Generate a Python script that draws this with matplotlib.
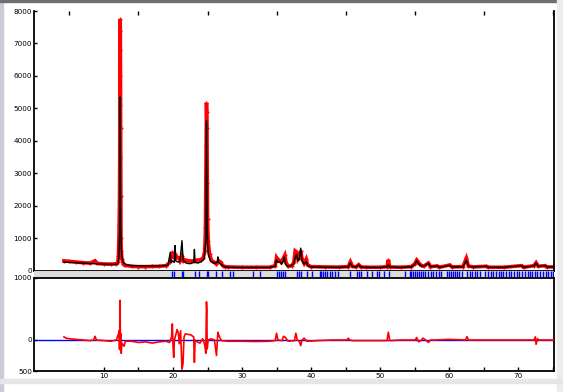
import matplotlib
matplotlib.use("Agg")
import matplotlib.pyplot as plt
from matplotlib.patches import Rectangle

# ---------------- data ----------------
calc_x = [4.2, 6, 8, 10, 11.5, 12.0, 12.15, 12.25, 12.28, 12.32, 12.35, 12.38, 12.42, 12.5, 12.6, 12.8,
          13.2, 14, 16, 18, 19.3, 19.6, 19.7, 19.9, 20.2, 20.3, 20.4, 20.7, 21.0, 21.3, 21.45, 21.6,
          22, 22.5, 23.0, 23.1, 23.2, 23.6, 24.0, 24.5, 24.75, 24.85, 24.95, 25.1, 25.4, 26.0, 26.4,
          26.5, 26.6, 27, 27.5, 28, 30, 32, 34, 34.8, 35.0, 35.2, 35.5, 35.7, 36.0, 36.1, 36.3, 36.6,
          37, 37.5, 37.7, 37.9, 38.1, 38.3, 38.5, 38.7, 39.0, 39.3, 39.5, 40, 42, 44, 45.4, 45.7, 46.0,
          46.5, 46.9, 47.2, 48, 50, 51.0, 51.2, 51.4, 53, 54.5, 55.0, 55.3, 55.6, 55.9, 56.3, 57.0,
          57.3, 58.3, 58.6, 60.1, 60.4, 62.0, 62.5, 62.8, 63.5, 65.4, 65.7, 68, 70.5, 70.8, 72.3,
          72.6, 72.9, 73.9, 74.2, 75.4]
calc_y = [260, 240, 215, 195, 185, 200, 400, 1000, 2000, 4000, 5350, 3500, 1500, 700, 400, 250,
          180, 150, 140, 140, 160, 560, 250, 300, 250, 770, 300, 260, 280, 920, 350, 280,
          220, 210, 250, 650, 250, 230, 260, 350, 900, 4620, 1200, 500, 300, 220, 250,
          420, 250, 180, 110, 100, 95, 95, 95, 130, 330, 250, 280, 200, 300, 420, 200, 130,
          140, 200, 400, 500, 300, 350, 690, 300, 200, 270, 150, 110, 100, 100, 110, 230, 120,
          110, 170, 110, 100, 95, 110, 180, 110, 100, 110, 180, 300, 200, 150, 130, 220,
          120, 140, 100, 160, 110, 110, 310, 130, 110, 130, 100, 100, 150, 100, 140,
          230, 130, 150, 110, 110]

obs_x = [4.2, 5, 6, 7, 8, 8.7, 9.0, 10, 11, 11.8, 12.0, 12.1, 12.2, 12.25, 12.28, 12.3, 12.32, 12.35,
         12.37, 12.39, 12.41, 12.43, 12.46, 12.5, 12.6, 12.8, 13.0, 14, 15, 16, 17, 18, 19, 19.5,
         19.7, 19.9, 20.1, 20.3, 20.5, 20.8, 21.0, 21.3, 21.5, 21.8, 22.2, 22.6, 23.1, 23.5, 24.0,
         24.4, 24.6, 24.7, 24.75, 24.8, 24.85, 24.88, 24.92, 24.96, 25.0, 25.1, 25.3, 25.6, 26.0,
         26.3, 26.6, 26.9, 27.2, 27.6, 28, 30, 32, 34, 34.8, 35.0, 35.2, 35.5, 35.7, 36.0, 36.2,
         36.4, 36.7, 37.2, 37.5, 37.7, 37.9, 38.1, 38.3, 38.5, 38.7, 39.0, 39.3, 39.5, 40, 42, 44,
         45.4, 45.7, 46.0, 46.5, 46.9, 47.2, 48, 50, 51.0, 51.2, 51.4, 53, 54.5, 55.0, 55.3, 55.6,
         55.9, 56.3, 57.0, 57.3, 58.3, 58.6, 60.1, 60.4, 62.0, 62.5, 62.8, 63.5, 65.4, 65.7, 68,
         70.5, 70.8, 72.3, 72.6, 72.9, 73.9, 74.2, 75.4]
obs_y = [300, 280, 260, 240, 230, 300, 220, 200, 195, 210, 260, 450, 1400, 2300, 3500, 5100, 6800, 7750,
         7380, 6000, 4400, 2300, 1000, 600, 350, 200, 160, 130, 120, 120, 125, 130, 150, 250,
         450, 570, 380, 500, 420, 400, 300, 450, 300, 320, 300, 290, 300, 320, 330,
         400, 600, 1300, 2400, 3850, 5170, 4900, 4400, 2700, 1600, 900, 500, 300, 250,
         200, 300, 250, 150, 120, 110, 100, 100, 100, 150, 400, 330, 300, 250, 380, 470,
         220, 130, 150, 250, 600, 560, 350, 420, 600, 350, 220, 350, 170, 120, 110, 105,
         120, 270, 130, 110, 180, 110, 100, 100, 120, 330, 110, 100, 120, 200, 320, 230,
         160, 130, 230, 120, 140, 100, 170, 110, 120, 380, 140, 110, 130, 100, 100,
         150, 100, 150, 240, 130, 150, 110, 110]

diff_x = [4.2, 4.5, 5, 6, 7, 8, 8.5, 8.7, 8.9, 10, 11, 11.8, 12.1, 12.2, 12.25, 12.3, 12.33, 12.36,
          12.4, 12.45, 12.5, 12.6, 12.9, 13.1, 14, 15, 16, 17, 18, 19, 19.5, 19.8, 19.9, 20.0, 20.1,
          20.2, 20.4, 20.6, 20.8, 20.9, 21.1, 21.3, 21.45, 21.6, 21.8, 22.2, 22.6, 23.0, 23.1, 23.2,
          23.5, 23.9, 24.3, 24.6, 24.75, 24.85, 24.9, 24.95, 25.1, 25.5, 26.0, 26.3, 26.5, 26.7,
          27.0, 28, 30, 32, 34, 34.8, 35.0, 35.2, 35.8, 36.0, 36.3, 36.6, 36.8, 37.6, 37.8, 38.0,
          38.3, 38.5, 38.7, 39.0, 39.4, 41, 43, 45.2, 45.4, 45.6, 46, 48, 51.0, 51.2, 51.4, 53,
          55.1, 55.3, 55.6, 56.0, 56.2, 56.6, 57, 57.3, 58, 60, 62.4, 62.6, 62.8, 63, 66, 70, 72.3,
          72.5, 72.6, 72.8, 73.0, 74, 75.4]
diff_y = [50, 30, 20, 10, 0, -10, 0, 60, 0, -10, -20, 0, 100, 150, -150, 350, 640, 200,
          -170, 100, -215, -50, -100, -20, -20, -40, -30, -50, -30, -20, -40, 50, 260, -100, -280,
          0, 80, 170, 100, -60, 150, -470, -380, 50, 100, 90, 80, 50, -360, 0,
          -30, -50, 20, -80, -215, 615, 500, -145, 0, 20, 0, -250, 125, 60,
          -10, -20, -20, -25, -20, -10, 110, 0, -10, 60, 40, -10, -20, -10, 110, 0,
          -20, -90, 0, 30, -20, -10, 0, 0, 30, 0, -10, -10, -10, 125, -10, 0,
          0, 40, -30, 0, 30, 0, -40, 0, 0, 10, 0, 55, 0, 0, 0, 0, 0,
          50, -70, 20, 0, 0, 0]

refl_pos = [19.9, 20.2, 21.3, 21.5, 23.2, 23.8, 24.9, 25.1, 26.2, 27.1, 28.3, 28.7, 31.6, 32.6,
            35.0, 35.3, 35.6, 36.0, 36.2, 37.9, 38.2, 38.6, 39.4, 40.1, 41.3, 41.5, 41.8, 42.0,
            42.3, 42.8, 43.1, 43.5, 43.9, 45.7, 46.6, 46.9, 47.3, 48.1, 48.8, 49.5, 49.8, 50.5,
            51.3, 53.6, 54.3, 54.5, 54.8, 55.0, 55.3, 55.6, 55.9, 56.2, 56.5, 57.0, 57.4, 57.7,
            58.1, 58.5, 58.9, 59.7, 60.0, 60.3, 60.6, 60.9, 61.2, 61.5, 61.8, 62.6, 63.0, 63.3,
            63.7, 64.1, 64.5, 65.2, 65.6, 66.0, 66.4, 66.8, 67.2, 67.5, 67.8, 68.3, 68.7, 69.0,
            69.4, 69.8, 70.2, 70.6, 71.0, 71.5, 71.7, 72.0, 72.4, 72.8, 73.2, 73.6, 74.0, 74.4,
            74.8, 75.1]

top_yticks = [0, 1000, 2000, 3000, 4000, 5000, 6000, 7000, 8000]
top_ylabels = ["0", "1000", "2000", "3000", "4000", "5000", "6000", "7000", "8000"]
low_yticks = [-500, 0, 1000]
low_ylabels = ["500", "0", "1000"]
xticks = [10, 20, 30, 40, 50, 60, 70]
xlabels = ["10", "20", "30", "40", "50", "60", "70"]

# ---------------- layout ----------------
W, H = 563, 392
fig = plt.figure(figsize=(W / 100, H / 100), dpi=100)
fig.patch.set_facecolor("white")


def frac(x0, y0, x1, y1):
    return [x0 / W, 1 - y1 / H, (x1 - x0) / W, (y1 - y0) / H]


# window frame decorations
fig.add_artist(Rectangle((0, 0), 3 / W, 1, transform=fig.transFigure, color="#c9ccd6", zorder=0))
fig.add_artist(Rectangle((0, 1 - 1.5 / H), 1, 1.5 / H, transform=fig.transFigure, color="#707070", zorder=0))
fig.add_artist(Rectangle((557 / W, 0), 6 / W, 1, transform=fig.transFigure, color="#ececec", zorder=0))
fig.add_artist(Rectangle((0, 1 - 383 / H), 1, 4 / H, transform=fig.transFigure, color="#e6e6e6", zorder=0))

XL = (-0.14, 75.2)
FS = 5.2
SPW = 1.3

ax = fig.add_axes(frac(34, 11, 554, 271))
band = fig.add_axes(frac(34, 271, 554, 278))
ax2 = fig.add_axes(frac(34, 278, 554, 371))

# top panel
ax.plot(obs_x, obs_y, color="#ff0000", lw=2.6, marker="+", ms=3, mew=1.0, zorder=2,
        solid_joinstyle="miter")
ax.plot(calc_x, calc_y, color="black", lw=1.0, zorder=3)
ax.set_xlim(*XL)
ax.set_ylim(-15, 8000)
ax.set_yticks(top_yticks)
ax.set_yticklabels(top_ylabels)
ax.set_xticks([5, 15, 25, 35, 45, 55, 65, 75])
ax.tick_params(axis="x", which="both", top=True, bottom=False, labelbottom=False,
               direction="in", length=3, width=1)
ax.tick_params(axis="y", direction="in", length=2, width=1, labelsize=FS, pad=1.5)
for s in ["left", "right", "bottom"]:
    ax.spines[s].set_linewidth(SPW)
ax.spines["top"].set_visible(False)

# reflection band
band.set_facecolor("#dcdcdc")
band.vlines(refl_pos, 0.15, 0.95, colors="#0000ff", lw=1.0)
band.set_xlim(*XL)
band.set_ylim(0, 1)
band.set_xticks([])
band.set_yticks([])
for s in band.spines.values():
    s.set_visible(False)

# difference panel
ax2.axhline(0, color="#0000ff", lw=1.0, zorder=2)
ax2.plot(diff_x, diff_y, color="#ff0000", lw=1.2, zorder=3)
ax2.set_xlim(*XL)
ax2.set_ylim(-500, 1000)
ax2.set_yticks(low_yticks)
ax2.set_yticklabels(low_ylabels)
ax2.set_xticks(xticks)
ax2.set_xticklabels(xlabels)
ax2.set_xticks([15, 25, 35, 45, 55, 65, 75], minor=True)
ax2.tick_params(axis="x", which="both", direction="in", length=3, width=1, labelsize=FS, pad=1.5)
ax2.tick_params(axis="y", direction="in", length=2, width=1, labelsize=FS, pad=1.5)
for s in ax2.spines.values():
    s.set_linewidth(SPW)

fig.savefig("out.png", dpi=100)
